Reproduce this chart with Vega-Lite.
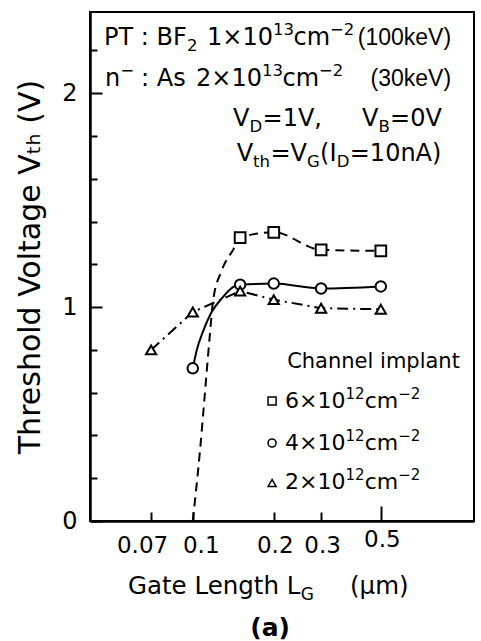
{
  "$schema": "https://vega.github.io/schema/vega-lite/v6.json",
  "width": 384,
  "height": 509,
  "autosize": {"type": "none"},
  "padding": {"left": 90, "top": 12, "right": 7, "bottom": 120},
  "background": "white",
  "config": {
    "font": "DejaVu Sans",
    "view": {"stroke": "black", "strokeWidth": 2},
    "axis": {"grid": false, "domainColor": "black", "domainWidth": 2.5, "tickColor": "black", "tickWidth": 2, "labelColor": "black", "titleColor": "black", "labelFont": "DejaVu Sans", "titleFont": "DejaVu Sans", "titleFontWeight": "normal"},
    "text": {"font": "DejaVu Sans", "color": "black"}
  },
  "datasets": {
    "lines": [
      {"s": "6×10¹²cm⁻²", "x": 0.1, "y": 0},
      {"s": "6×10¹²cm⁻²", "x": 0.1064, "y": 0.33},
      {"s": "6×10¹²cm⁻²", "x": 0.111, "y": 0.6},
      {"s": "6×10¹²cm⁻²", "x": 0.1153, "y": 0.846},
      {"s": "6×10¹²cm⁻²", "x": 0.119, "y": 1.03},
      {"s": "6×10¹²cm⁻²", "x": 0.128, "y": 1.17},
      {"s": "6×10¹²cm⁻²", "x": 0.1415, "y": 1.27},
      {"s": "6×10¹²cm⁻²", "x": 0.15, "y": 1.325},
      {"s": "6×10¹²cm⁻²", "x": 0.2, "y": 1.35},
      {"s": "6×10¹²cm⁻²", "x": 0.3, "y": 1.268},
      {"s": "6×10¹²cm⁻²", "x": 0.5, "y": 1.263},
      {"s": "4×10¹²cm⁻²", "x": 0.1, "y": 0.714},
      {"s": "4×10¹²cm⁻²", "x": 0.1035, "y": 0.8},
      {"s": "4×10¹²cm⁻²", "x": 0.1095, "y": 0.89},
      {"s": "4×10¹²cm⁻²", "x": 0.1177, "y": 0.978},
      {"s": "4×10¹²cm⁻²", "x": 0.128, "y": 1.04},
      {"s": "4×10¹²cm⁻²", "x": 0.1415, "y": 1.095},
      {"s": "4×10¹²cm⁻²", "x": 0.15, "y": 1.105},
      {"s": "4×10¹²cm⁻²", "x": 0.2, "y": 1.11},
      {"s": "4×10¹²cm⁻²", "x": 0.3, "y": 1.087},
      {"s": "4×10¹²cm⁻²", "x": 0.5, "y": 1.097},
      {"s": "2×10¹²cm⁻²", "x": 0.07, "y": 0.8},
      {"s": "2×10¹²cm⁻²", "x": 0.1, "y": 0.977},
      {"s": "2×10¹²cm⁻²", "x": 0.15, "y": 1.075},
      {"s": "2×10¹²cm⁻²", "x": 0.2, "y": 1.035},
      {"s": "2×10¹²cm⁻²", "x": 0.3, "y": 0.995},
      {"s": "2×10¹²cm⁻²", "x": 0.5, "y": 0.99}
    ],
    "points": [
      {"s": "6×10¹²cm⁻²", "x": 0.15, "y": 1.325},
      {"s": "6×10¹²cm⁻²", "x": 0.2, "y": 1.35},
      {"s": "6×10¹²cm⁻²", "x": 0.3, "y": 1.268},
      {"s": "6×10¹²cm⁻²", "x": 0.5, "y": 1.263},
      {"s": "4×10¹²cm⁻²", "x": 0.1, "y": 0.714},
      {"s": "4×10¹²cm⁻²", "x": 0.15, "y": 1.105},
      {"s": "4×10¹²cm⁻²", "x": 0.2, "y": 1.11},
      {"s": "4×10¹²cm⁻²", "x": 0.3, "y": 1.087},
      {"s": "4×10¹²cm⁻²", "x": 0.5, "y": 1.097},
      {"s": "2×10¹²cm⁻²", "x": 0.07, "y": 0.8},
      {"s": "2×10¹²cm⁻²", "x": 0.1, "y": 0.977},
      {"s": "2×10¹²cm⁻²", "x": 0.15, "y": 1.075},
      {"s": "2×10¹²cm⁻²", "x": 0.2, "y": 1.035},
      {"s": "2×10¹²cm⁻²", "x": 0.3, "y": 0.995},
      {"s": "2×10¹²cm⁻²", "x": 0.5, "y": 0.99}
    ],
    "leg_sym": [
      {"s": "6×10¹²cm⁻²", "x": 0.19714, "y": 0.561},
      {"s": "4×10¹²cm⁻²", "x": 0.19714, "y": 0.3647},
      {"s": "2×10¹²cm⁻²", "x": 0.19714, "y": 0.1777}
    ],
    "leg_main": [
      {"x": 0.22026, "y": 0.5283, "t": "6×10"},
      {"x": 0.43539, "y": 0.5283, "t": "cm"},
      {"x": 0.22026, "y": 0.3319, "t": "4×10"},
      {"x": 0.43539, "y": 0.3319, "t": "cm"},
      {"x": 0.22026, "y": 0.1496, "t": "2×10"},
      {"x": 0.43539, "y": 0.1496, "t": "cm"}
    ],
    "leg_small": [
      {"x": 0.36969, "y": 0.5704, "t": "12"},
      {"x": 0.58002, "y": 0.5704, "t": "−2"},
      {"x": 0.36969, "y": 0.374, "t": "12"},
      {"x": 0.58002, "y": 0.374, "t": "−2"},
      {"x": 0.36969, "y": 0.1917, "t": "12"},
      {"x": 0.58002, "y": 0.1917, "t": "−2"}
    ],
    "ann_main": [
      {"x": 0.04679, "y": 2.2253, "t": "PT : BF"},
      {"x": 0.11298, "y": 2.2253, "t": "1×10"},
      {"x": 0.23689, "y": 2.2253, "t": "cm"},
      {"x": 0.04718, "y": 2.0337, "t": "n"},
      {"x": 0.06422, "y": 2.0337, "t": ": As"},
      {"x": 0.10285, "y": 2.0337, "t": "2×10"},
      {"x": 0.21563, "y": 2.0337, "t": "cm"},
      {"x": 0.14115, "y": 1.8467, "t": "V"},
      {"x": 0.18168, "y": 1.8467, "t": "=1V,"},
      {"x": 0.42579, "y": 1.8467, "t": "V"},
      {"x": 0.54112, "y": 1.8467, "t": "=0V"},
      {"x": 0.14569, "y": 1.683, "t": "V"},
      {"x": 0.19446, "y": 1.683, "t": "=V"},
      {"x": 0.29724, "y": 1.683, "t": "(I"},
      {"x": 0.38326, "y": 1.683, "t": "=10nA)"}
    ],
    "ann_right": [
      {"x": 0.9122, "y": 2.2253, "t": "(100keV)"},
      {"x": 0.9122, "y": 2.0337, "t": "(30keV)"}
    ],
    "ann_small": [
      {"x": 0.09521, "y": 2.1973, "t": "2"},
      {"x": 0.19884, "y": 2.2721, "t": "13"},
      {"x": 0.32379, "y": 2.2721, "t": "−2"},
      {"x": 0.05389, "y": 2.0804, "t": "−"},
      {"x": 0.18094, "y": 2.0804, "t": "13"},
      {"x": 0.2947, "y": 2.0804, "t": "−2"},
      {"x": 0.16243, "y": 1.8186, "t": "D"},
      {"x": 0.49003, "y": 1.8186, "t": "B"},
      {"x": 0.16749, "y": 1.655, "t": "th"},
      {"x": 0.26599, "y": 1.655, "t": "G"},
      {"x": 0.34259, "y": 1.655, "t": "D"}
    ],
    "legend_title": [
      {"x": 0.2243, "y": 0.7153, "t": "Channel implant"}
    ],
    "xt_main": [
      {"x": 0.05745, "y": -0.3413, "t": "Gate Length L"},
      {"x": 0.38426, "y": -0.3413, "t": "(μm)"}
    ],
    "xt_sub": [
      {"x": 0.25223, "y": -0.3693, "t": "G"}
    ],
    "caption": [
      {"x": 0.1938, "y": -0.5376, "t": "(a)"}
    ]
  },
  "layer": [
    {
      "data": {"name": "lines"},
      "transform": [{"filter": "datum.s == '6×10¹²cm⁻²'"}],
      "mark": {"type": "line", "interpolate": "monotone", "color": "black", "strokeWidth": 2, "strokeDash": [9, 6]},
      "encoding": {
        "x": {"field": "x", "type": "quantitative", "title": null,
          "scale": {"type": "log", "domain": [0.0415, 1.11], "nice": false},
          "axis": {"values": [0.07, 0.1, 0.2, 0.3, 0.5], "format": "~g", "labelFontSize": 23, "labelPadding": 22,
            "tickSize": {"condition": {"test": "datum.value > 0.4", "value": -15}, "value": -9},
            "labelOffset": {"condition": [{"test": "datum.value < 0.08", "value": -9}, {"test": "datum.value > 0.09 && datum.value < 0.15", "value": 8}], "value": 1},
            "labelFlush": false}},
        "y": {"field": "y", "type": "quantitative", "title": "Threshold Voltage Vₜₕ (V)",
          "scale": {"domain": [0, 2.38], "nice": false, "zero": true},
          "axis": {"values": [0, 1, 2], "format": "d", "tickSize": -12, "labelFontSize": 24, "labelPadding": 25, "titleFontSize": 30, "titlePadding": 16}}
      }
    },
    {
      "data": {"name": "lines"},
      "transform": [{"filter": "datum.s == '4×10¹²cm⁻²'"}],
      "mark": {"type": "line", "interpolate": "monotone", "color": "black", "strokeWidth": 2},
      "encoding": {
        "x": {"field": "x", "type": "quantitative", "title": null, "scale": {"type": "log", "domain": [0.0415, 1.11], "nice": false}},
        "y": {"field": "y", "type": "quantitative", "title": null, "scale": {"domain": [0, 2.38], "nice": false, "zero": true}, "axis": null}
      }
    },
    {
      "data": {"name": "lines"},
      "transform": [{"filter": "datum.s == '2×10¹²cm⁻²'"}],
      "mark": {"type": "line", "color": "black", "strokeWidth": 2, "strokeDash": [11, 5, 2, 5]},
      "encoding": {
        "x": {"field": "x", "type": "quantitative", "title": null, "scale": {"type": "log", "domain": [0.0415, 1.11], "nice": false}},
        "y": {"field": "y", "type": "quantitative", "title": null, "scale": {"domain": [0, 2.38], "nice": false, "zero": true}, "axis": null}
      }
    },
    {
      "data": {"name": "points"},
      "mark": {"type": "point", "filled": true, "fill": "white", "stroke": "black", "strokeWidth": 2, "opacity": 1},
      "encoding": {
        "x": {"field": "x", "type": "quantitative", "title": null, "scale": {"type": "log", "domain": [0.0415, 1.11], "nice": false}},
        "y": {"field": "y", "type": "quantitative", "title": null, "scale": {"domain": [0, 2.38], "nice": false, "zero": true},
          "axis": {"orient": "left", "values": [0.2, 0.4, 0.6, 0.8, 1.2, 1.4, 1.6, 1.8, 2.2], "labels": false, "domain": false, "tickSize": -7, "title": null}},
        "shape": {"field": "s", "type": "nominal", "title": null, "legend": null,
          "scale": {"domain": ["6×10¹²cm⁻²", "4×10¹²cm⁻²", "2×10¹²cm⁻²"], "range": ["square", "circle", "triangle-up"]}},
        "size": {"field": "s", "type": "nominal", "title": null, "legend": null,
          "scale": {"domain": ["6×10¹²cm⁻²", "4×10¹²cm⁻²", "2×10¹²cm⁻²"], "range": [115, 105, 175]}}
      }
    },
    {
      "data": {"name": "leg_sym"},
      "mark": {"type": "point", "filled": true, "fill": "white", "stroke": "black", "strokeWidth": 1.5, "opacity": 1, "size": 65},
      "encoding": {
        "x": {"field": "x", "type": "quantitative", "title": null, "scale": {"type": "log", "domain": [0.0415, 1.11], "nice": false}},
        "y": {"field": "y", "type": "quantitative", "title": null, "scale": {"domain": [0, 2.38], "nice": false, "zero": true}, "axis": null},
        "shape": {"field": "s", "type": "nominal", "title": null, "legend": null,
          "scale": {"domain": ["6×10¹²cm⁻²", "4×10¹²cm⁻²", "2×10¹²cm⁻²"], "range": ["square", "circle", "triangle-up"]}}
      }
    },
    {
      "data": {"name": "leg_main"},
      "mark": {"type": "text", "align": "left", "baseline": "alphabetic", "fontSize": 22},
      "encoding": {
        "x": {"field": "x", "type": "quantitative", "title": null, "scale": {"type": "log", "domain": [0.0415, 1.11], "nice": false}},
        "y": {"field": "y", "type": "quantitative", "title": null, "scale": {"domain": [0, 2.38], "nice": false, "zero": true}, "axis": null},
        "text": {"field": "t"}
      }
    },
    {
      "data": {"name": "leg_small"},
      "mark": {"type": "text", "align": "left", "baseline": "alphabetic", "fontSize": 15},
      "encoding": {
        "x": {"field": "x", "type": "quantitative", "title": null, "scale": {"type": "log", "domain": [0.0415, 1.11], "nice": false}},
        "y": {"field": "y", "type": "quantitative", "title": null, "scale": {"domain": [0, 2.38], "nice": false, "zero": true}, "axis": null},
        "text": {"field": "t"}
      }
    },
    {
      "data": {"name": "ann_main"},
      "mark": {"type": "text", "align": "left", "baseline": "alphabetic", "fontSize": 24},
      "encoding": {
        "x": {"field": "x", "type": "quantitative", "title": null, "scale": {"type": "log", "domain": [0.0415, 1.11], "nice": false}},
        "y": {"field": "y", "type": "quantitative", "title": null, "scale": {"domain": [0, 2.38], "nice": false, "zero": true}, "axis": null},
        "text": {"field": "t"}
      }
    },
    {
      "data": {"name": "legend_title"},
      "mark": {"type": "text", "align": "left", "baseline": "alphabetic", "fontSize": 21},
      "encoding": {
        "x": {"field": "x", "type": "quantitative", "title": null, "scale": {"type": "log", "domain": [0.0415, 1.11], "nice": false}},
        "y": {"field": "y", "type": "quantitative", "title": null, "scale": {"domain": [0, 2.38], "nice": false, "zero": true}, "axis": null},
        "text": {"field": "t"}
      }
    },
    {
      "data": {"name": "ann_right"},
      "mark": {"type": "text", "align": "right", "baseline": "alphabetic", "fontSize": 23, "font": "Liberation Sans"},
      "encoding": {
        "x": {"field": "x", "type": "quantitative", "title": null, "scale": {"type": "log", "domain": [0.0415, 1.11], "nice": false}},
        "y": {"field": "y", "type": "quantitative", "title": null, "scale": {"domain": [0, 2.38], "nice": false, "zero": true}, "axis": null},
        "text": {"field": "t"}
      }
    },
    {
      "data": {"name": "ann_small"},
      "mark": {"type": "text", "align": "left", "baseline": "alphabetic", "fontSize": 16.5},
      "encoding": {
        "x": {"field": "x", "type": "quantitative", "title": null, "scale": {"type": "log", "domain": [0.0415, 1.11], "nice": false}},
        "y": {"field": "y", "type": "quantitative", "title": null, "scale": {"domain": [0, 2.38], "nice": false, "zero": true}, "axis": null},
        "text": {"field": "t"}
      }
    },
    {
      "data": {"name": "xt_main"},
      "mark": {"type": "text", "align": "left", "baseline": "alphabetic", "fontSize": 24.5},
      "encoding": {
        "x": {"field": "x", "type": "quantitative", "title": null, "scale": {"type": "log", "domain": [0.0415, 1.11], "nice": false}},
        "y": {"field": "y", "type": "quantitative", "title": null, "scale": {"domain": [0, 2.38], "nice": false, "zero": true}, "axis": null},
        "text": {"field": "t"}
      }
    },
    {
      "data": {"name": "xt_sub"},
      "mark": {"type": "text", "align": "left", "baseline": "alphabetic", "fontSize": 17},
      "encoding": {
        "x": {"field": "x", "type": "quantitative", "title": null, "scale": {"type": "log", "domain": [0.0415, 1.11], "nice": false}},
        "y": {"field": "y", "type": "quantitative", "title": null, "scale": {"domain": [0, 2.38], "nice": false, "zero": true}, "axis": null},
        "text": {"field": "t"}
      }
    },
    {
      "data": {"name": "caption"},
      "mark": {"type": "text", "align": "center", "baseline": "alphabetic", "fontSize": 25, "fontWeight": "bold"},
      "encoding": {
        "x": {"field": "x", "type": "quantitative", "title": null, "scale": {"type": "log", "domain": [0.0415, 1.11], "nice": false}},
        "y": {"field": "y", "type": "quantitative", "title": null, "scale": {"domain": [0, 2.38], "nice": false, "zero": true}, "axis": null},
        "text": {"field": "t"}
      }
    }
  ],
  "resolve": {"axis": {"y": "independent"}}
}
